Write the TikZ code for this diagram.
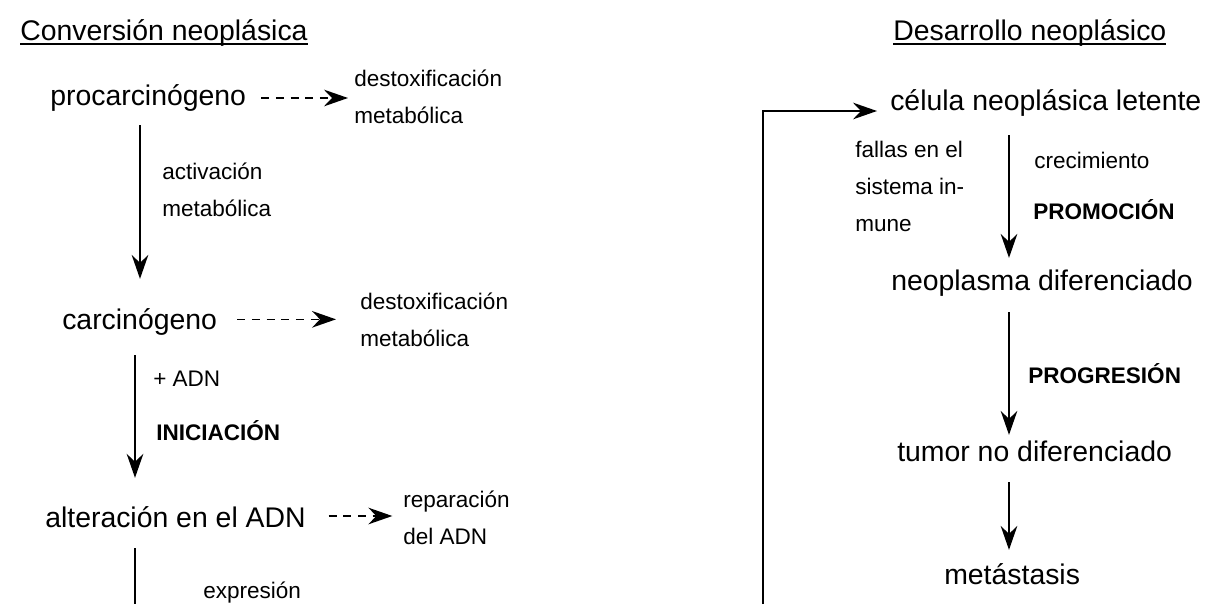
\documentclass[tikz,border=0pt]{standalone}
\usepackage{fontspec}
\setmainfont{Liberation Sans}
\usetikzlibrary{arrows.meta}

\newcommand\bigfnt{\fontsize{21.3}{25}\selectfont}
\newcommand\smallfnt{\fontsize{16.9}{27.75}\selectfont}
\newcommand\ultitle[1]{\setbox0\hbox{#1}\rlap{\rule[-3.6pt]{\wd0}{1.1pt}}\box0}

\begin{document}
\begin{tikzpicture}[x = 0.75pt, y = -0.75pt,
    big/.style = {font = \bigfnt, inner sep = 0pt, anchor = west, text height = 16pt, text depth = 5.3pt},
    small/.style = {font = \smallfnt, inner sep = 0pt, align = left, anchor = base west},
    flow/.style = {-{Stealth[length = 18pt, width = 12.5pt, inset = 6pt]}, line width = 1.2pt},
    dashflow/.style = {flow, dash pattern = on 6pt off 5pt}]
    \useasboundingbox (0,0) rectangle (1210,604);

    % conversion
    \node[big, anchor = base west] (conv) at (20,40) {\ultitle{Conversión neoplásica}};
    \node[big] (proc) at (50,98) {procarcinógeno};
    \node[small] (destA) at (354,123) {destoxificación\\metabólica};
    \node[small] (activ) at (162,216) {activación\\metabólica};
    \node[big] (carc) at (62,322) {carcinógeno};
    \node[small] (destB) at (360,346) {destoxificación\\metabólica};
    \node[small] (adn) at (153,386) {+ ADN};
    \node[small, font = \smallfnt\bfseries] (inic) at (156,440) {INICIACIÓN};
    \node[big] (alter) at (45,520) {alteración en el ADN};
    \node[small] (repar) at (403,544) {reparación\\del ADN};
    \node[small] (expr) at (203,598) {expresión};
    \coordinate (colA) at (140,0);
    \coordinate (colB) at (135,0);
    \coordinate (endL) at (135,604);

    \draw[dashflow, shorten < = 11.25pt, shorten > = 4.5pt] (proc.east) -- (proc.east -| destA.west);
    \draw[dashflow, shorten < = 15pt, shorten > = 18pt] ([yshift = 2pt]carc.east) -- ([yshift = 2pt]carc.east -| destB.west);
    \draw[dashflow, shorten < = 17pt, shorten > = 8pt] ([yshift = 3pt]alter.east) -- ([yshift = 3pt]alter.east -| repar.west);
    \draw[flow, shorten < = 9.5pt, shorten > = 21.5pt] (proc.south -| colA) -- (carc.north -| colA);
    \draw[flow, shorten < = 14pt, shorten > = 20.8pt] (carc.south -| colB) -- (alter.north -| colB);
    \draw[line width = 1.2pt, shorten < = 10.3pt] (alter.south -| colB) -- (endL);

    % desarrollo
    \node[big, anchor = base west] (desa) at (893,40) {\ultitle{Desarrollo neoplásico}};
    \node[big] (celula) at (890,103) {célula neoplásica letente};
    \node[small] (fallas) at (855,231) {fallas en el\\sistema in-\\mune};
    \node[small] (crec) at (1034,168) {crecimiento};
    \node[small, font = \smallfnt\bfseries] (promo) at (1033,219) {PROMOCIÓN};
    \node[big] (neopl) at (891,283) {neoplasma diferenciado};
    \node[small, font = \smallfnt\bfseries] (progr) at (1028,383) {PROGRESIÓN};
    \node[big] (tumor) at (897,454) {tumor no diferenciado};
    \node[big] (meta) at (944,577) {metástasis};
    \coordinate (colR) at (1009,0);
    \coordinate (endR) at (763,604);

    \draw[flow, shorten < = 13.3pt, shorten > = 8pt] (celula.south -| colR) -- (neopl.north -| colR);
    \draw[flow, shorten < = 11pt, shorten > = 3.5pt] (neopl.south -| colR) -- (tumor.north -| colR);
    \draw[flow, shorten < = 10.3pt, shorten > = 9.5pt] (tumor.south -| colR) -- (meta.north -| colR);
    \draw[flow, shorten > = 9.75pt] (endR) |- ([yshift = -6pt]celula.west);
\end{tikzpicture}
\end{document}
